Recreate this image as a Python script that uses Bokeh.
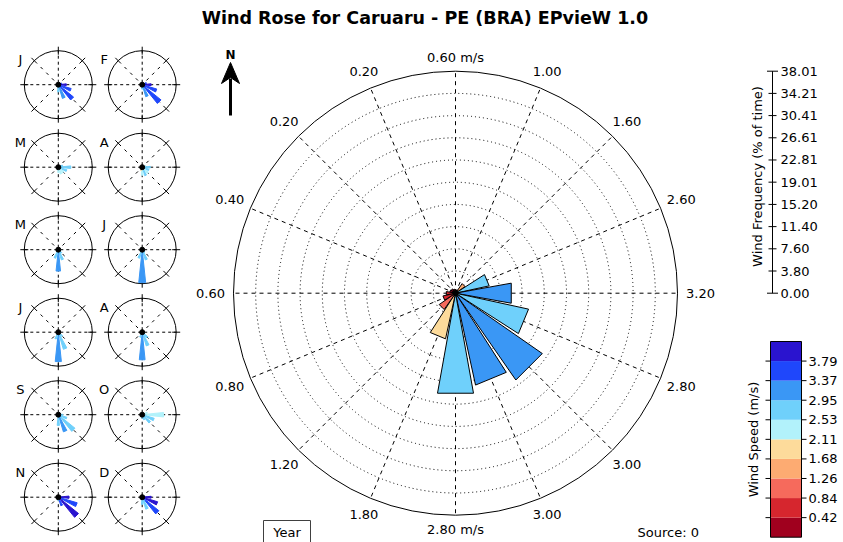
import numpy as np
from bokeh.plotting import figure
from bokeh.models import Range1d
from bokeh.core.properties import value
from bokeh.embed import file_html
from bokeh.resources import INLINE

# ---------------- data ----------------
directions = ["N", "NNE", "NE", "ENE", "E", "ESE", "SE", "SSE",
              "S", "SSW", "SW", "WSW", "W", "WNW", "NW", "NNW"]
year_freq = [0.6, 0.5, 2.0, 5.9, 9.7, 12.8, 18.1, 16.1,
             17.4, 8.0, 3.4, 2.2, 1.6, 1.0, 0.9, 0.7]
year_speed = [0.60, 1.00, 1.60, 2.60, 3.20, 2.80, 3.00, 3.00,
              2.80, 1.80, 1.20, 0.80, 0.60, 0.40, 0.20, 0.20]

month_letters = ["J", "F", "M", "A", "M", "J", "J", "A", "S", "O", "N", "D"]
month_freq = [
    [0.5, 0.5, 1.0, 4.0, 9.0, 15.0, 22.0, 16.0, 8.0, 2.0, 0.5, 0.5, 0.5, 0.5, 0.5, 0.5],
    [0.5, 0.5, 1.0, 5.0, 10.0, 17.0, 27.0, 14.0, 5.0, 1.0, 0.5, 0.3, 0.3, 0.3, 0.3, 0.3],
    [0.5, 0.5, 1.0, 5.0, 14.0, 10.0, 8.0, 8.0, 6.0, 2.0, 1.0, 0.5, 0.5, 0.5, 0.5, 0.5],
    [0.5, 0.5, 1.5, 4.0, 9.0, 8.0, 9.0, 10.0, 9.0, 4.0, 1.5, 1.0, 0.5, 0.5, 0.5, 0.5],
    [0.3, 0.3, 0.5, 1.0, 2.0, 3.0, 5.0, 12.0, 24.0, 10.0, 2.0, 1.0, 0.5, 0.3, 0.3, 0.3],
    [0.3, 0.3, 0.3, 0.5, 1.0, 2.0, 4.0, 12.0, 37.0, 10.0, 2.0, 0.5, 0.3, 0.3, 0.3, 0.3],
    [0.3, 0.3, 0.3, 0.5, 1.0, 2.0, 6.0, 20.0, 33.0, 8.0, 1.5, 0.5, 0.3, 0.3, 0.3, 0.3],
    [0.3, 0.3, 0.3, 0.5, 1.5, 3.0, 8.0, 16.0, 31.0, 6.0, 1.5, 0.5, 0.3, 0.3, 0.3, 0.3],
    [0.3, 0.3, 0.5, 2.0, 5.0, 10.0, 24.0, 20.0, 12.0, 3.0, 1.0, 0.5, 0.3, 0.3, 0.3, 0.3],
    [0.3, 0.5, 1.0, 6.0, 24.0, 14.0, 12.0, 6.0, 4.0, 1.0, 0.5, 0.3, 0.3, 0.3, 0.3, 0.3],
    [0.3, 0.3, 0.5, 3.0, 12.0, 22.0, 29.0, 10.0, 4.0, 1.0, 0.3, 0.3, 0.3, 0.3, 0.3, 0.3],
    [0.3, 0.3, 0.5, 3.0, 10.0, 18.0, 24.0, 14.0, 8.0, 1.5, 0.5, 0.3, 0.3, 0.3, 0.3, 0.3],
]
month_speed = [
    [0.6, 1.0, 1.6, 3.5, 3.9, 3.6, 3.5, 3.0, 2.7, 1.8, 1.2, 0.8, 0.6, 0.4, 0.2, 0.2],
    [0.6, 1.0, 1.6, 3.4, 3.9, 3.6, 3.7, 3.1, 2.6, 1.8, 1.2, 0.8, 0.6, 0.4, 0.2, 0.2],
    [0.6, 1.0, 1.6, 2.6, 2.7, 2.6, 2.5, 2.4, 2.3, 1.8, 1.2, 0.8, 0.6, 0.4, 0.2, 0.2],
    [0.6, 1.0, 1.6, 2.4, 2.6, 2.6, 2.5, 2.6, 2.4, 1.8, 1.2, 0.8, 0.6, 0.4, 0.2, 0.2],
    [0.6, 1.0, 1.6, 2.2, 2.4, 2.6, 2.7, 2.7, 3.0, 2.6, 1.2, 0.8, 0.6, 0.4, 0.2, 0.2],
    [0.6, 1.0, 1.6, 2.2, 2.4, 2.6, 2.7, 2.8, 3.2, 2.6, 1.2, 0.8, 0.6, 0.4, 0.2, 0.2],
    [0.6, 1.0, 1.6, 2.2, 2.4, 2.6, 2.7, 2.7, 3.1, 2.6, 1.2, 0.8, 0.6, 0.4, 0.2, 0.2],
    [0.6, 1.0, 1.6, 2.2, 2.4, 2.6, 2.7, 2.8, 3.0, 2.6, 1.2, 0.8, 0.6, 0.4, 0.2, 0.2],
    [0.6, 1.0, 1.6, 2.4, 2.6, 2.7, 2.8, 3.0, 2.6, 2.2, 1.2, 0.8, 0.6, 0.4, 0.2, 0.2],
    [0.6, 1.0, 1.6, 2.2, 2.3, 2.6, 2.7, 2.7, 2.6, 1.8, 1.2, 0.8, 0.6, 0.4, 0.2, 0.2],
    [0.6, 1.0, 1.6, 3.4, 3.9, 3.6, 3.9, 3.4, 2.8, 1.8, 1.2, 0.8, 0.6, 0.4, 0.2, 0.2],
    [0.6, 1.0, 1.6, 3.4, 3.9, 3.8, 3.5, 2.8, 2.7, 1.8, 1.2, 0.8, 0.6, 0.4, 0.2, 0.2],
]

speed_bins = [0.42, 0.84, 1.26, 1.68, 2.11, 2.53, 2.95, 3.37, 3.79]
speed_colors = ["#a0001e", "#d6262e", "#f66a5c", "#fdab72", "#fddb9b",
                "#b2f2fb", "#6fd0fb", "#3a97f5", "#1f47fb", "#2a14cf"]
freq_max = 38.01
freq_ticks = [0.00, 3.80, 7.60, 11.40, 15.20, 19.01, 22.81, 26.61, 30.41, 34.21, 38.01]

title_text = "Wind Rose for Caruaru - PE (BRA)  EPvieW 1.0"

# ---------------- layout helpers ----------------
W, H = 843, 542
def Y(py):
    return H - py

FONT = value("DejaVu Sans")

p = figure(width=W, height=H, output_backend="svg", toolbar_location=None,
           x_range=Range1d(0, W), y_range=Range1d(0, H),
           x_axis_type=None, y_axis_type=None, min_border=0,
           outline_line_color=None, background_fill_color="white",
           border_fill_color="white")
p.grid.visible = False

def color_of(s):
    return speed_colors[int(np.digitize(s, speed_bins))]

def wedge_polys(cx, cy, freqs, scale, half_deg):
    xs, ys = [], []
    hw = np.deg2rad(half_deg)
    for i, f in enumerate(freqs):
        if f <= 0:
            xs.append([]); ys.append([]); continue
        th = np.deg2rad(i * 360.0 / len(freqs))
        r = f * scale
        xs.append([cx, cx + r * np.sin(th - hw), cx + r * np.sin(th + hw)])
        ys.append([cy, cy + r * np.cos(th - hw), cy + r * np.cos(th + hw)])
    return xs, ys

ndir = len(directions)
angles = np.deg2rad(np.arange(ndir) * 360.0 / ndir)

# ---------------- title ----------------
p.text(x=[427.5], y=[Y(17)], text=[title_text], text_font=FONT,
       text_font_size=value("17.5px"), text_font_style="bold",
       text_align="center", text_baseline="middle", text_color="black")

# ---------------- main rose ----------------
mcx, mcy, R = 455, Y(292.7), 222.0
scale = R / freq_max
ring_r = [v * scale for v in freq_ticks[1:-1]]
p.circle(x=[mcx] * len(ring_r), y=[mcy] * len(ring_r), radius=ring_r,
         fill_color=None, line_color="black", line_dash="1 3", line_width=1)
p.segment(x0=[mcx] * ndir, y0=[mcy] * ndir,
          x1=mcx + R * np.sin(angles), y1=mcy + R * np.cos(angles),
          line_color="black", line_dash="4 4", line_width=1)
p.circle(x=[mcx], y=[mcy], radius=[R], fill_color=None, line_color="black", line_width=1)

xs, ys = wedge_polys(mcx, mcy, year_freq, scale, 10.2)
p.patches(xs=xs, ys=ys, fill_color=[color_of(s) for s in year_speed],
          line_color="black", line_width=1)
p.circle(x=[mcx], y=[mcy], radius=[2.5], fill_color="black", line_color="black")

# speed labels around main rose
lab_r = 236 + 9 * np.abs(np.sin(angles))
lab_txt = []
for i, s in enumerate(year_speed):
    t = f"{s:.2f}"
    if directions[i] in ("N", "S"):
        t += " m/s"
    lab_txt.append(t)
p.text(x=mcx + lab_r * np.sin(angles), y=mcy + lab_r * np.cos(angles), text=lab_txt,
       text_font=FONT, text_font_size=value("13px"), text_align="center",
       text_baseline="middle", text_color="black")

# North arrow
p.segment(x0=[230], y0=[Y(78)], x1=[230], y1=[Y(115)], line_color="black", line_width=3)
p.patch(x=[230, 221, 230, 239], y=[Y(62), Y(83), Y(77), Y(83)], fill_color="black", line_color="black")
p.text(x=[230], y=[Y(54)], text=["N"], text_font=FONT, text_font_size=value("12px"),
       text_font_style="bold", text_align="center", text_baseline="middle")

# ---------------- monthly roses ----------------
col_x = [57.8, 141.7]
row_y = [84.2, 166.7, 249.2, 331.7, 414.2, 496.7]
sr = 34.0
sscale = sr / freq_max
ang8 = np.deg2rad(np.arange(8) * 45.0)
for m, letter in enumerate(month_letters):
    cx = col_x[m % 2]
    cy = Y(row_y[m // 2])
    p.segment(x0=[cx - sr, cx], y0=[cy, cy - sr], x1=[cx + sr, cx], y1=[cy, cy + sr],
              line_color="black", line_dash="3 3", line_width=1)
    diag = ang8[1::2]
    p.segment(x0=cx + 6 * np.sin(diag), y0=cy + 6 * np.cos(diag),
              x1=cx + (sr - 4) * np.sin(diag), y1=cy + (sr - 4) * np.cos(diag),
              line_color="black", line_dash="3 5", line_width=1)
    p.segment(x0=cx + (sr - 4) * np.sin(ang8), y0=cy + (sr - 4) * np.cos(ang8),
              x1=cx + (sr + 4) * np.sin(ang8), y1=cy + (sr + 4) * np.cos(ang8),
              line_color="black", line_width=1)
    p.circle(x=[cx], y=[cy], radius=[sr], fill_color=None, line_color="black", line_width=1)
    mxs, mys = wedge_polys(cx, cy, month_freq[m], sscale, 6.0)
    cols = [color_of(s) for s in month_speed[m]]
    p.patches(xs=mxs, ys=mys, fill_color=cols, line_color=cols, line_width=1)
    p.circle(x=[cx], y=[cy], radius=[2.5], fill_color="black", line_color="black")
    p.text(x=[cx - 38], y=[cy + 25], text=[letter], text_font=FONT,
           text_font_size=value("13px"), text_align="center", text_baseline="middle")

# ---------------- frequency scale ----------------
fx = 772
f_py = [292.7 - v * scale for v in freq_ticks]
p.segment(x0=[fx], y0=[Y(f_py[0])], x1=[fx], y1=[Y(f_py[-1])], line_color="black", line_width=1)
tick_half = [5.5 if i in (0, len(freq_ticks) - 1) else 4 for i in range(len(freq_ticks))]
p.segment(x0=[fx - h for h in tick_half], y0=[Y(v) for v in f_py],
          x1=[fx + h for h in tick_half], y1=[Y(v) for v in f_py],
          line_color="black", line_width=1)
p.text(x=[780] * len(freq_ticks), y=[Y(v) for v in f_py], text=[f"{v:.2f}" for v in freq_ticks],
       text_font=FONT, text_font_size=value("13px"), text_align="left",
       text_baseline="middle")
p.text(x=[757], y=[Y(176)], text=["Wind Frequency (% of time)"], angle=[np.pi / 2],
       text_font=FONT, text_font_size=value("13px"), text_align="center",
       text_baseline="middle")

# ---------------- colour bar ----------------
cb_left, cb_right, cb_top, cb_bot = 770, 801, 341.0, 536.7
nb = len(speed_colors)
bh = (cb_bot - cb_top) / nb
p.quad(left=[cb_left] * nb, right=[cb_right] * nb,
       bottom=[Y(cb_bot - i * bh) for i in range(nb)],
       top=[Y(cb_bot - (i + 1) * bh) for i in range(nb)],
       fill_color=speed_colors, line_color=None)
p.quad(left=[cb_left], right=[cb_right], bottom=[Y(cb_bot)], top=[Y(cb_top)],
       fill_color=None, line_color="black", line_width=1)
b_py = [cb_bot - (i + 1) * bh for i in range(len(speed_bins))]
p.segment(x0=[cb_left - 5] * len(b_py), y0=[Y(v) for v in b_py],
          x1=[cb_left] * len(b_py), y1=[Y(v) for v in b_py], line_color="black")
p.segment(x0=[cb_right] * len(b_py), y0=[Y(v) for v in b_py],
          x1=[cb_right + 5] * len(b_py), y1=[Y(v) for v in b_py], line_color="black")
p.text(x=[808] * len(b_py), y=[Y(v) for v in b_py], text=[f"{v:.2f}" for v in speed_bins],
       text_font=FONT, text_font_size=value("13px"), text_align="left",
       text_baseline="middle")
p.text(x=[753], y=[Y(439)], text=["Wind Speed (m/s)"], angle=[np.pi / 2],
       text_font=FONT, text_font_size=value("13px"), text_align="center",
       text_baseline="middle")

# ---------------- footer ----------------
p.quad(left=[263], right=[310], top=[Y(520)], bottom=[Y(548)], fill_color="white",
       line_color="#404040", line_width=1)
p.text(x=[286.5], y=[Y(532)], text=["Year"], text_font=FONT, text_font_size=value("13px"),
       text_align="center", text_baseline="middle")
p.text(x=[637], y=[Y(532)], text=["Source: 0"], text_font=FONT, text_font_size=value("13px"),
       text_align="left", text_baseline="middle")

open("out.html", "w").write(file_html(p, INLINE))
